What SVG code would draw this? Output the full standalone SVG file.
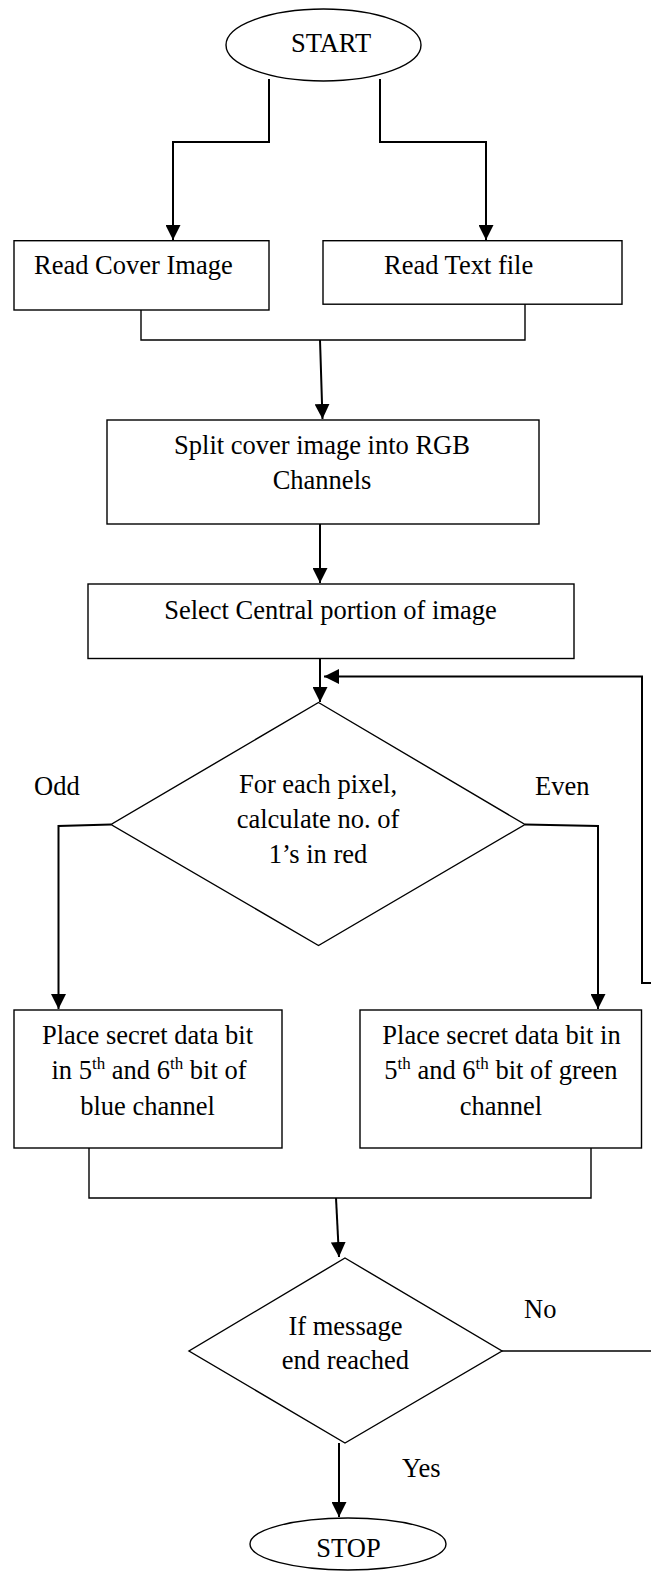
<svg xmlns="http://www.w3.org/2000/svg" width="651" height="1571" viewBox="0 0 651 1571">
<defs>
<style>
.n{fill:#fff;stroke:#000;stroke-width:1.4}
.c{fill:none;stroke:#000;stroke-width:1.4}
.a{fill:none;stroke:#000;stroke-width:2;marker-end:url(#ah)}
text{font-family:"Liberation Serif","Times New Roman",serif;font-size:26.5px;fill:#000}
.m{text-anchor:middle}
.sup{font-size:17px}
</style>
<marker id="ah" markerWidth="15" markerHeight="15" refX="15" refY="7.5" orient="auto" markerUnits="userSpaceOnUse"><path d="M0,0 L15,7.5 L0,15 z" fill="#000"/></marker>
</defs>
<rect width="651" height="1571" fill="#fff"/>
<g id="connectors">
<path class="a" d="M269,79 V142 H173 V240"/>
<path class="a" d="M380,79 V142 H486 V240"/>
<path class="c" d="M141,310 V340 H525 V304"/>
<path class="a" d="M320,340 L322.5,419"/>
<path class="a" d="M320,524 V583"/>
<path class="a" d="M320,658 V702"/>
<path class="a" d="M651,983 H642 V676.5 H324"/>
<path class="a" d="M111,824.5 L58.5,826 V1009"/>
<path class="a" d="M525,824.5 L598,826 V1009"/>
<path class="c" d="M89,1148 V1198 H591 V1148"/>
<path class="a" d="M336,1198 L339,1257"/>
<path class="c" d="M502,1351 H651"/>
<path class="a" d="M339,1443 V1517"/>
<text x="34" y="795">Odd</text>
<text x="535" y="795">Even</text>
<text x="524" y="1318">No</text>
<text x="402" y="1477">Yes</text>
</g>
<g id="start">
<ellipse class="n" cx="323.5" cy="45" rx="97.5" ry="36"/>
<text class="m" x="331" y="52">START</text>
</g>
<g id="readCover">
<rect class="n" x="14" y="240.7" width="255" height="69.3"/>
<text x="34" y="274">Read Cover Image</text>
</g>
<g id="readText">
<rect class="n" x="323" y="240.7" width="299" height="63.5"/>
<text x="384" y="274">Read Text file</text>
</g>
<g id="split">
<rect class="n" x="107" y="420" width="432" height="104"/>
<text class="m" x="322" y="454">Split cover image into RGB</text>
<text class="m" x="322" y="489">Channels</text>
</g>
<g id="select">
<rect class="n" x="88" y="584" width="486" height="74.5"/>
<text class="m" x="330.5" y="618.5">Select Central portion of image</text>
</g>
<g id="decision1">
<polygon class="n" points="318.5,702.5 525,824.5 318.5,945.5 111,824.5"/>
<text class="m" x="318" y="793">For each pixel,</text>
<text class="m" x="318" y="828">calculate no. of</text>
<text class="m" x="318" y="863">1’s in red</text>
</g>
<g id="blue">
<rect class="n" x="14" y="1010" width="268" height="138"/>
<text class="m" x="147.5" y="1044">Place secret data bit</text>
<text class="m" x="149" y="1079">in 5<tspan class="sup" dy="-10">th</tspan><tspan dy="10"> and 6</tspan><tspan class="sup" dy="-10">th</tspan><tspan dy="10"> bit of</tspan></text>
<text class="m" x="147.5" y="1114.5">blue channel</text>
</g>
<g id="green">
<rect class="n" x="360" y="1010" width="281.5" height="138"/>
<text class="m" x="501.5" y="1044">Place secret data bit in</text>
<text class="m" x="501" y="1079">5<tspan class="sup" dy="-10">th</tspan><tspan dy="10"> and 6</tspan><tspan class="sup" dy="-10">th</tspan><tspan dy="10"> bit of green</tspan></text>
<text class="m" x="501" y="1114.5">channel</text>
</g>
<g id="decision2">
<polygon class="n" points="345,1258 502,1351 345,1443 189,1351"/>
<text class="m" x="345.5" y="1335">If message</text>
<text class="m" x="345.5" y="1369">end reached</text>
</g>
<g id="stop">
<ellipse class="n" cx="348" cy="1544" rx="98" ry="26"/>
<text class="m" x="348.5" y="1557">STOP</text>
</g>
</svg>
